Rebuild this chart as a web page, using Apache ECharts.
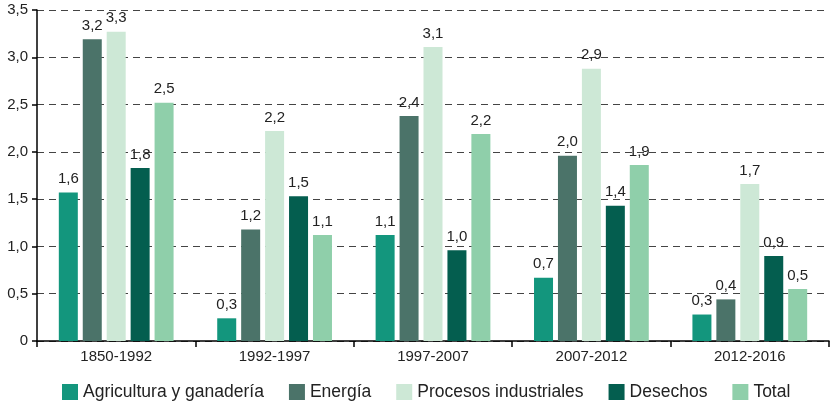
<!DOCTYPE html>
<html>
<head>
<meta charset="utf-8">
<script src="https://cdn.jsdelivr.net/npm/echarts@6/dist/echarts.min.js"></script>
<style>
  html, body { margin: 0; padding: 0; background: #fff; }
  #main { width: 831px; height: 407px; }
</style>
</head>
<body>
<div id="main"></div>
<script>
var periodos = ['1850-1992', '1992-1997', '1997-2007', '2007-2012', '2012-2016'];
var nombres = ['Agricultura y ganadería', 'Energía', 'Procesos industriales', 'Desechos', 'Total'];

// bar heights as drawn
var agricultura = [1.57, 0.24, 1.12, 0.67, 0.28];
var energia = [3.19, 1.18, 2.38, 1.96, 0.44];
var procesos = [3.27, 2.22, 3.11, 2.88, 1.66];
var desechos = [1.83, 1.53, 0.96, 1.43, 0.90];
var total = [2.52, 1.12, 2.19, 1.86, 0.55];

// printed labels
var etqAgricultura = ['1,6', '0,3', '1,1', '0,7', '0,3'];
var etqEnergia = ['3,2', '1,2', '2,4', '2,0', '0,4'];
var etqProcesos = ['3,3', '2,2', '3,1', '2,9', '1,7'];
var etqDesechos = ['1,8', '1,5', '1,0', '1,4', '0,9'];
var etqTotal = ['2,5', '1,1', '2,2', '1,9', '0,5'];

var colores = ['#13967d', '#4b7369', '#cde8d6', '#045e4f', '#8fcfaa'];

var valores = [agricultura, energia, procesos, desechos, total];
var etiquetas = [etqAgricultura, etqEnergia, etqProcesos, etqDesechos, etqTotal];

var chartDom = document.getElementById('main');
var myChart = echarts.init(chartDom);
var option;

var fuente = 'Liberation Sans, Arial, sans-serif';

option = {
  animation: false,
  textStyle: { fontFamily: fuente },
  legend: {
    left: 57,
    bottom: 1,
    itemWidth: 16,
    itemHeight: 16,
    itemGap: 25,
    icon: 'rect',
    textStyle: { fontSize: 17.5, color: '#222', fontFamily: fuente },
    data: nombres
  },
  grid: {
    left: 37,
    right: 2,
    top: 10,
    bottom: 66
  },
  xAxis: {
    type: 'category',
    data: periodos,
    axisLine: { lineStyle: { color: '#000', width: 1.5 } },
    axisTick: { show: true, length: 6, lineStyle: { color: '#000', width: 1.5 } },
    axisLabel: { fontSize: 15, color: '#222', margin: 8, fontFamily: fuente }
  },
  yAxis: {
    type: 'value',
    min: 0,
    max: 3.5,
    interval: 0.5,
    axisLine: { show: true, lineStyle: { color: '#000', width: 1.5 } },
    axisTick: { show: true, length: 5, lineStyle: { color: '#000', width: 1.5 } },
    axisLabel: {
      fontSize: 15,
      color: '#222',
      margin: 9,
      fontFamily: fuente,
      formatter: function (v) {
        return v === 0 ? '0' : v.toFixed(1).replace('.', ',');
      }
    },
    splitLine: {
      lineStyle: { color: '#444', type: [7, 5], width: 1 }
    }
  },
  series: nombres.map(function (n, i) {
    return {
      name: n,
      type: 'bar',
      barWidth: 19,
      barGap: '26%',
      itemStyle: { color: colores[i] },
      label: {
        show: true,
        position: 'top',
        distance: 6,
        fontSize: 15,
        color: '#222',
        fontFamily: fuente,
        formatter: function (p) {
          return etiquetas[i][p.dataIndex];
        }
      },
      data: valores[i]
    };
  })
};

option && myChart.setOption(option);
</script>
</body>
</html>
